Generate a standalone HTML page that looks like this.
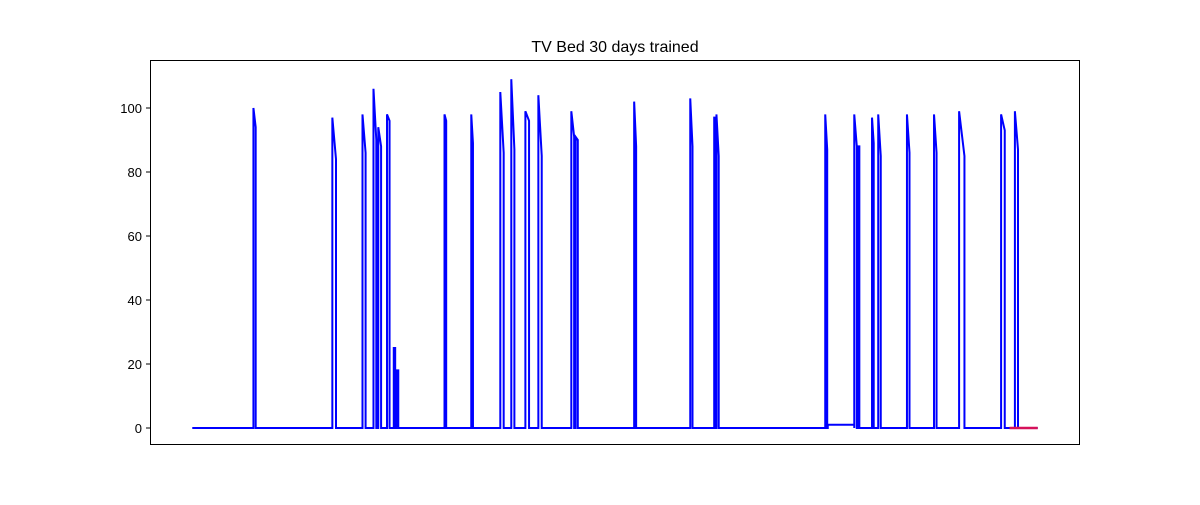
<!DOCTYPE html>
<html><head><meta charset="utf-8"><style>
body{margin:0;background:#fff;}
svg text{font-family:"Liberation Sans","DejaVu Sans",sans-serif;}
</style></head><body>
<svg id="chart" width="1200" height="500">
<rect x="0" y="0" width="1200" height="500" fill="#fff"/>
<text x="615" y="52" font-size="16" text-anchor="middle">TV Bed 30 days trained</text>
<g id="yaxis"></g>
<g id="plot"></g>
<rect x="150.5" y="60.5" width="929" height="384" fill="none" stroke="#000" stroke-width="1"/>
</svg>
<script>
// Data (x in days, y in sensor value)
const spikeStart = [2.17,4.97,6.04,6.43,6.60,6.91,7.15,7.25,8.95,9.90,10.93,11.32,11.82,12.28,13.45,13.60,15.68,17.67,18.52,18.60,22.46,22.55,23.49,23.60,24.12,24.34,25.36,26.32,27.21,28.70,29.19];
const spikeEnd   = [2.25,5.10,6.15,6.53,6.70,7.00,7.20,7.31,9.01,9.96,11.05,11.43,11.95,12.40,13.55,13.68,15.75,17.75,18.58,18.68,22.53,23.49,23.58,23.67,24.18,24.43,25.45,26.41,27.40,28.83,29.30];
const spikePeak  = [100,97,98,106,94,98,25,18,98,98,105,109,99,104,99,91,102,103,97,98,98,1,98,88,97,98,98,98,99,98,99];
const spikeTail  = [94,84,86,90,88,96,25,18,96,89,86,87,96,85,91,90,88,88,97,85,87,1,88,88,89,85,86,86,85,93,87];
const redStart = 29.0, redEnd = 30.0, redValue = 0;
const yTicks = [0,20,40,60,80,100];
const xMin = 0, xMax = 30;

const L=150,R=1080,T=60,B=445;
const span = xMax-xMin, pad = span*0.05;
const xs = d => L + (d-(xMin-pad))/(span+2*pad)*(R-L);
const ys = v => 428 - v*3.2;

const ns="http://www.w3.org/2000/svg";
const yaxis=document.getElementById('yaxis');
yTicks.forEach(t=>{
  const y=ys(t);
  const ln=document.createElementNS(ns,'line');
  ln.setAttribute('x1',L-4);ln.setAttribute('x2',L);ln.setAttribute('y1',y);ln.setAttribute('y2',y);
  ln.setAttribute('stroke','#000');
  
  
  yaxis.appendChild(ln);
  const tx=document.createElementNS(ns,'text');
  tx.setAttribute('x',L-8);tx.setAttribute('y',y+5);tx.setAttribute('font-size','13');tx.setAttribute('text-anchor','end');
  tx.textContent=t;
  
  
  yaxis.appendChild(tx);
});

let pts=[[xMin,0]];
for(let i=0;i<spikeStart.length;i++){
  pts.push([spikeStart[i],0],[spikeStart[i],spikePeak[i]],[spikeEnd[i],spikeTail[i]],[spikeEnd[i],0]);
}
pts.push([xMax,0]);
const plot=document.getElementById('plot');
const p=document.createElementNS(ns,'polyline');
p.setAttribute('points',pts.map(q=>xs(q[0]).toFixed(2)+','+ys(q[1]).toFixed(2)).join(' '));
p.setAttribute('fill','none');p.setAttribute('stroke','#0000ff');p.setAttribute('stroke-width','2');


plot.appendChild(p);
const r=document.createElementNS(ns,'line');
r.setAttribute('x1',xs(redStart));r.setAttribute('x2',xs(redEnd));r.setAttribute('y1',ys(redValue));r.setAttribute('y2',ys(redValue));
r.setAttribute('stroke','#d6125a');r.setAttribute('stroke-width','2.5');


plot.appendChild(r);
</script>
</body></html>
